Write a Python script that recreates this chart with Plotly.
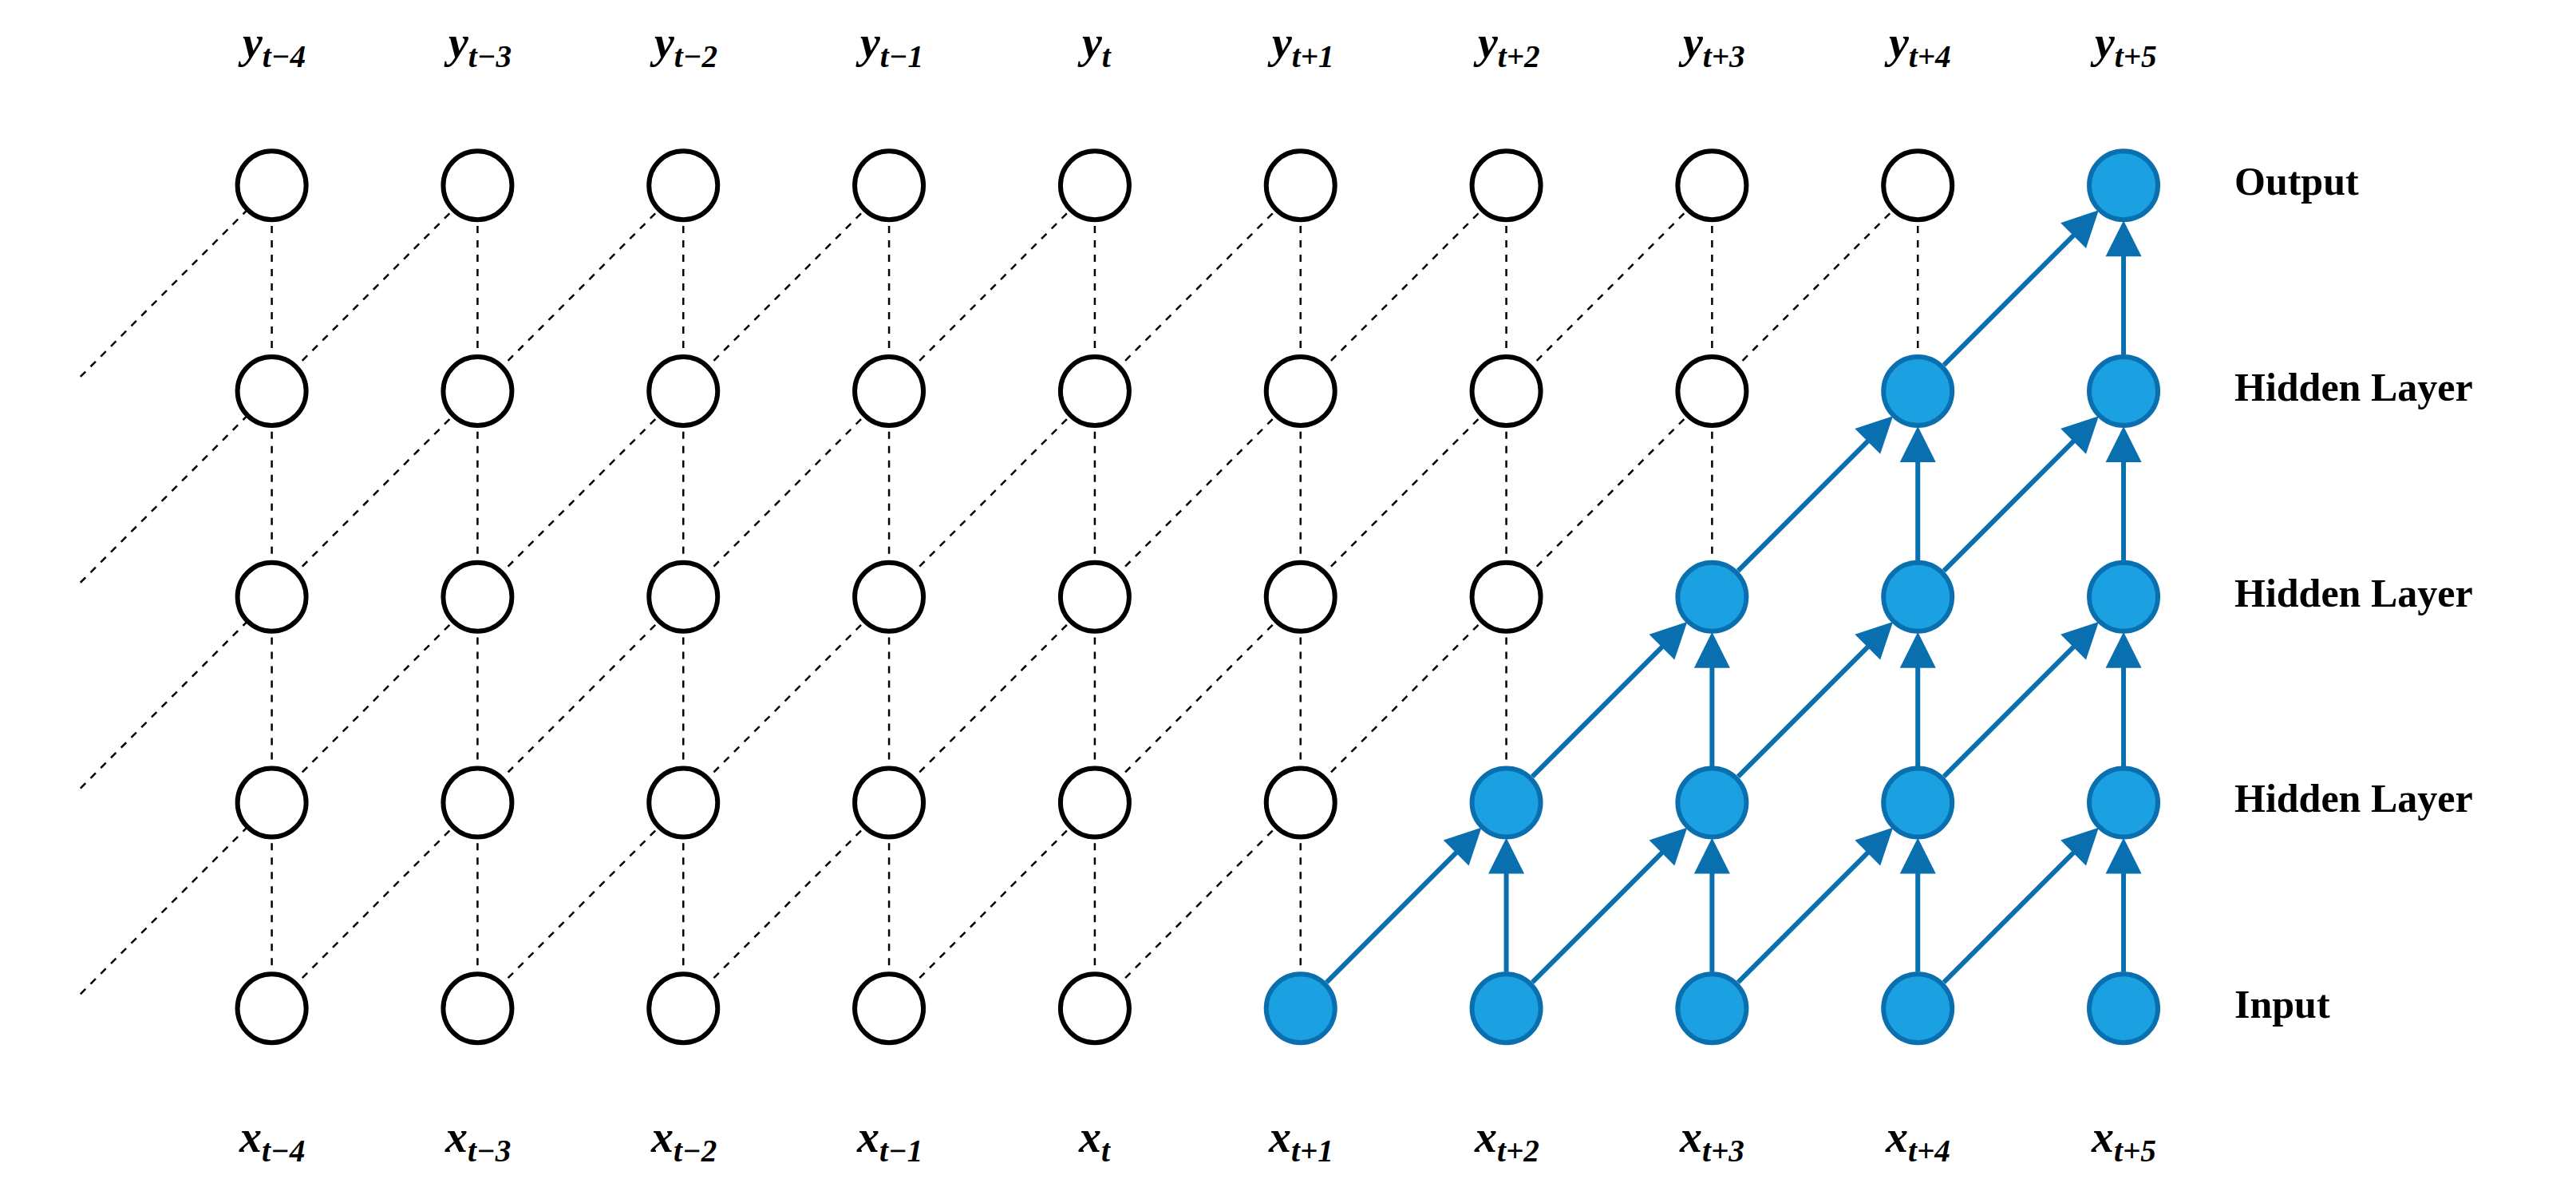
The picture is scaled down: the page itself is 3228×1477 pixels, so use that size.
import plotly.graph_objects as go

# time steps (columns) and layers (rows, bottom to top)
steps = ["t−4", "t−3", "t−2", "t−1", "t", "t+1", "t+2", "t+3", "t+4", "t+5"]
layers = ["Input", "Hidden Layer", "Hidden Layer", "Hidden Layer", "Output"]
first_active = 5  # first column whose input is blue

BLUE_FILL = "#1BA1E2"
BLUE_LINE = "#0A6FAF"
FONT = "Liberation Serif"

n_cols = len(steps)
n_rows = len(layers)


def is_active(c, r):
    return c >= first_active + r


fig = go.Figure()

# dashed black edges
dx, dy = [], []
for c in range(n_cols):
    for r in range(n_rows - 1):
        if not is_active(c, r + 1):
            dx += [c, c, None]
            dy += [r, r + 1, None]
        if c + 1 < n_cols and not is_active(c + 1, r + 1):
            dx += [c, c + 1, None]
            dy += [r, r + 1, None]
# stubs coming in from the left edge
for r in range(n_rows - 1):
    dx += [-0.93, 0, None]
    dy += [r + 0.07, r + 1, None]
fig.add_trace(go.Scatter(x=dx, y=dy, mode="lines",
                         line=dict(color="black", width=2.5, dash="dash"),
                         hoverinfo="skip", showlegend=False))

# nodes
xs = [c for c in range(n_cols) for r in range(n_rows)]
ys = [r for c in range(n_cols) for r in range(n_rows)]
fills = [BLUE_FILL if is_active(c, r) else "white" for c, r in zip(xs, ys)]
lines = [BLUE_LINE if is_active(c, r) else "black" for c, r in zip(xs, ys)]
fig.add_trace(go.Scatter(x=xs, y=ys, mode="markers",
                         marker=dict(size=86, color=fills,
                                     line=dict(color=lines, width=6)),
                         hoverinfo="skip", showlegend=False))

annotations = []
# solid blue arrows into blue nodes
for c in range(n_cols):
    for r in range(n_rows - 1):
        targets = [(c, r + 1)]
        if c + 1 < n_cols:
            targets.append((c + 1, r + 1))
        for tc, tr in targets:
            if is_active(tc, tr):
                annotations.append(dict(
                    x=tc, y=tr, ax=c, ay=r, xref="x", yref="y", axref="x", ayref="y",
                    text="", showarrow=True, arrowhead=2, arrowsize=1.5,
                    arrowwidth=6, arrowcolor=BLUE_LINE,
                    standoff=44, startstandoff=44))

# column labels
for c, s in enumerate(steps):
    annotations.append(dict(x=c, y=4.68, xref="x", yref="y", showarrow=False,
                            text=f"<b><i>y<sub>{s}</sub></i></b>",
                            font=dict(family=FONT, size=56, color="black")))
    annotations.append(dict(x=c, y=-0.64, xref="x", yref="y", showarrow=False,
                            text=f"<b><i>x<sub>{s}</sub></i></b>",
                            font=dict(family=FONT, size=56, color="black")))

# row labels
for r, name in enumerate(layers):
    annotations.append(dict(x=9.53, y=r + 0.02, xref="x", yref="y", showarrow=False,
                            xanchor="left", text=f"<b>{name}</b>",
                            font=dict(family=FONT, size=50, color="black")))

fig.update_layout(
    width=3228, height=1477,
    margin=dict(l=0, r=0, t=0, b=0),
    plot_bgcolor="white", paper_bgcolor="white",
    xaxis=dict(range=[-1.29, 11.23], visible=False, fixedrange=True),
    yaxis=dict(range=[-0.86, 4.87], visible=False, fixedrange=True),
    annotations=annotations,
)

fig.write_html("out.html")
